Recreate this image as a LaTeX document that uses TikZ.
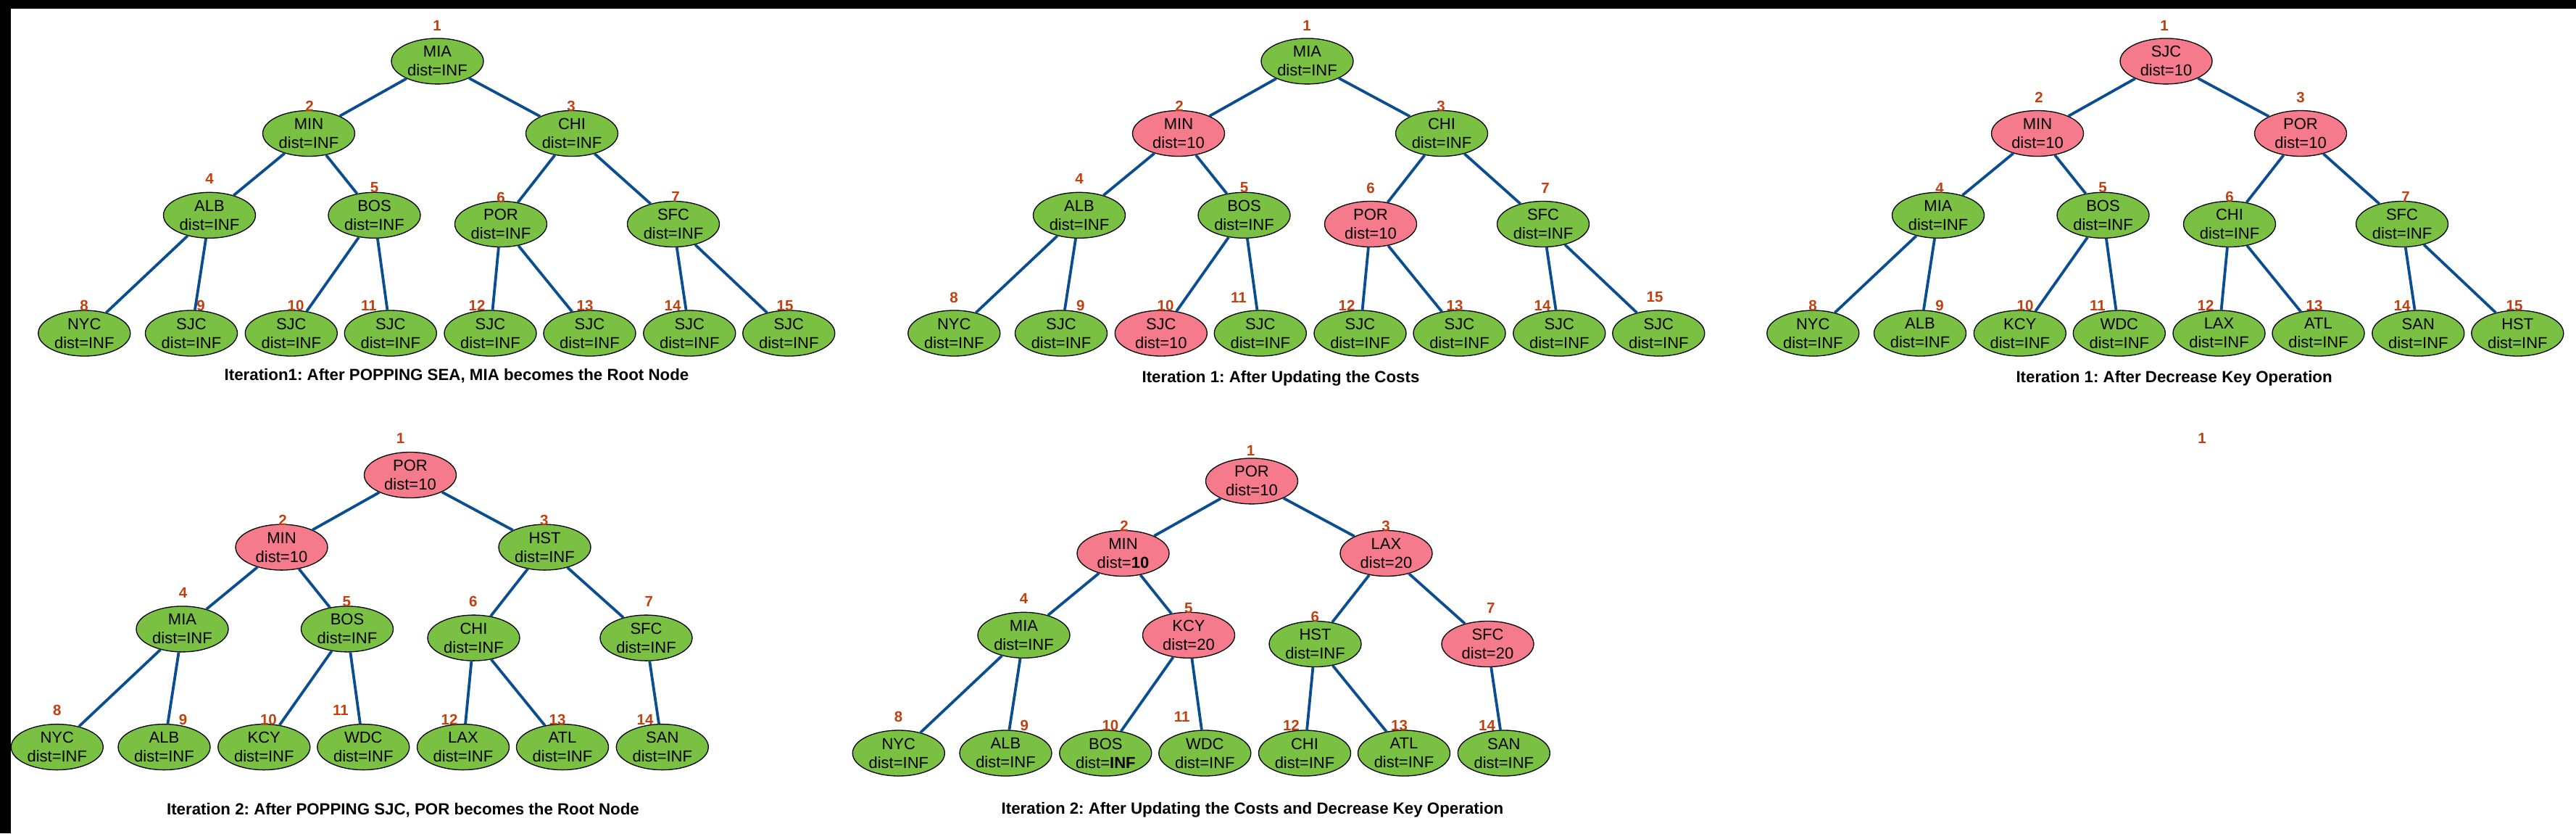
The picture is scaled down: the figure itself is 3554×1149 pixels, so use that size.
\documentclass[tikz,border=0pt]{standalone}
\usepackage{fontspec}
\setmainfont{Liberation Sans}
\frenchspacing
\usetikzlibrary{shapes.geometric}
\definecolor{nodegreen}{RGB}{122,193,67}
\definecolor{nodepink}{RGB}{245,122,140}
\definecolor{numred}{RGB}{192,64,16}
\definecolor{edgeblue}{RGB}{10,78,145}
\newcommand{\nt}[2]{\parbox[c][20pt][c]{20pt}{\centering\makebox[0pt]{#1}\\\makebox[0pt]{#2}}}
\newcommand{\cty}[5]{\node[#1] (#2) at (#3) {\nt{#4}{#5}};}
\newcommand{\nm}[3]{\node[num] (#1) at (#2) {#3};}
\newcommand{\treebase}[1]{%
  \draw[edge] (#1R) -- (#1A); \draw[edge] (#1R) -- (#1B);
  \draw[edge] (#1A) -- (#1C); \draw[edge] (#1A) -- (#1D);
  \draw[edge] (#1B) -- (#1E); \draw[edge] (#1B) -- (#1F);
  \draw[edge] (#1C) -- (#1l1); \draw[edge] (#1C) -- (#1l2);
  \draw[edge] (#1D) -- (#1l3); \draw[edge] (#1D) -- (#1l4);
  \draw[edge] (#1E) -- (#1l5); \draw[edge] (#1E) -- (#1l6);
  \draw[edge] (#1F) -- (#1l7);}
\tikzset{
  city/.style={ellipse, draw=black, line width=1.3pt, minimum width=127pt, minimum height=63pt, inner sep=0pt, font=\fontsize{22}{26}\selectfont},
  gnode/.style={city, fill=nodegreen},
  pnode/.style={city, fill=nodepink},
  num/.style={text=numred, font=\fontsize{20.5}{20.5}\bfseries\selectfont, inner sep=0pt},
  edge/.style={draw=edgeblue, line width=3.8pt},
  capt/.style={font=\fontsize{22.3}{26}\bfseries\selectfont, inner sep=0pt}
}
\begin{document}
\begin{tikzpicture}[x=1pt, y=-1pt]
\useasboundingbox (0,0) rectangle (3554,1149);
\fill[white] (0,0) rectangle (3554,1149);
\fill[black] (0,0) rectangle (3554,12);
\fill[black] (0,0) rectangle (15,1149);

% ---------- Tree 1 ----------
\begin{scope}[shift={(0,0)}]
\cty{gnode}{aR}{603.5,84.4}{MIA}{dist=INF}
\cty{gnode}{aA}{426,184}{MIN}{dist=INF}
\cty{gnode}{aB}{789,184}{CHI}{dist=INF}
\cty{gnode}{aC}{289,296.8}{ALB}{dist=INF}
\cty{gnode}{aD}{516.5,296.8}{BOS}{dist=INF}
\cty{gnode}{aE}{691,309}{POR}{dist=INF}
\cty{gnode}{aF}{929,309}{SFC}{dist=INF}
\cty{gnode}{al1}{116.3,459.5}{NYC}{dist=INF}
\cty{gnode}{al2}{264,459.5}{SJC}{dist=INF}
\cty{gnode}{al3}{401.8,459.5}{SJC}{dist=INF}
\cty{gnode}{al4}{538.8,459.5}{SJC}{dist=INF}
\cty{gnode}{al5}{676.5,459.5}{SJC}{dist=INF}
\cty{gnode}{al6}{813.5,459.5}{SJC}{dist=INF}
\cty{gnode}{al7}{951.3,459.5}{SJC}{dist=INF}
\cty{gnode}{al8}{1088.3,459.5}{SJC}{dist=INF}
\treebase{a}
\draw[edge] (aF) -- (al8);
\nm{an1}{603,35}{1}
\nm{an2}{427,146}{2}
\nm{an3}{788,146}{3}
\nm{an4}{289,246}{4}
\nm{an5}{516.6,259}{5}
\nm{an6}{691,272}{6}
\nm{an7}{932,271}{7}
\nm{an8}{116,421.7}{8}
\nm{an9}{277,421.7}{9}
\nm{an10}{408,421.7}{10}
\nm{an11}{509,421.7}{11}
\nm{an12}{658,421.7}{12}
\nm{an13}{807,421.7}{13}
\nm{an14}{928,421.7}{14}
\nm{an15}{1083,421.7}{15}
\end{scope}
\node[capt] (cap1) at (630,518) {Iteration1: After POPPING SEA, MIA becomes the Root Node};

% ---------- Tree 2 ----------
\begin{scope}[shift={(1200,0)}]
\cty{gnode}{bR}{603.5,84.4}{MIA}{dist=INF}
\cty{pnode}{bA}{426,184}{MIN}{dist=10}
\cty{gnode}{bB}{789,184}{CHI}{dist=INF}
\cty{gnode}{bC}{289,296.8}{ALB}{dist=INF}
\cty{gnode}{bD}{516.5,296.8}{BOS}{dist=INF}
\cty{pnode}{bE}{691,309}{POR}{dist=10}
\cty{gnode}{bF}{929,309}{SFC}{dist=INF}
\cty{gnode}{bl1}{116.3,459.5}{NYC}{dist=INF}
\cty{gnode}{bl2}{264,459.5}{SJC}{dist=INF}
\cty{pnode}{bl3}{401.8,459.5}{SJC}{dist=10}
\cty{gnode}{bl4}{538.8,459.5}{SJC}{dist=INF}
\cty{gnode}{bl5}{676.5,459.5}{SJC}{dist=INF}
\cty{gnode}{bl6}{813.5,459.5}{SJC}{dist=INF}
\cty{gnode}{bl7}{951.3,459.5}{SJC}{dist=INF}
\cty{gnode}{bl8}{1088.3,459.5}{SJC}{dist=INF}
\treebase{b}
\draw[edge] (bF) -- (bl8);
\nm{bn1}{603,35}{1}
\nm{bn2}{427,146}{2}
\nm{bn3}{788,146}{3}
\nm{bn4}{289,246}{4}
\nm{bn5}{516.6,259}{5}
\nm{bn6}{691,259}{6}
\nm{bn7}{932,259}{7}
\nm{bn8}{116,410}{8}
\nm{bn9}{290.8,421.7}{9}
\nm{bn10}{408,421.7}{10}
\nm{bn11}{509,410}{11}
\nm{bn12}{658,421.7}{12}
\nm{bn13}{807,421.7}{13}
\nm{bn14}{928,421.7}{14}
\nm{bn15}{1083,410}{15}
\end{scope}
\node[capt] (cap2) at (1767,521.6) {Iteration 1: After Updating the Costs};

% ---------- Tree 3 ----------
\begin{scope}[shift={(2385,0)}]
\cty{pnode}{cR}{603.5,84.4}{SJC}{dist=10}
\cty{pnode}{cA}{426,184}{MIN}{dist=10}
\cty{pnode}{cB}{789,184}{POR}{dist=10}
\cty{gnode}{cC}{289,296.8}{MIA}{dist=INF}
\cty{gnode}{cD}{516.5,296.8}{BOS}{dist=INF}
\cty{gnode}{cE}{691,309}{CHI}{dist=INF}
\cty{gnode}{cF}{929,309}{SFC}{dist=INF}
\cty{gnode}{cl1}{116.3,459.5}{NYC}{dist=INF}
\cty{gnode}{cl2}{264,459.5}{ALB}{dist=INF}
\cty{gnode}{cl3}{401.8,459.5}{KCY}{dist=INF}
\cty{gnode}{cl4}{538.8,459.5}{WDC}{dist=INF}
\cty{gnode}{cl5}{676.5,459.5}{LAX}{dist=INF}
\cty{gnode}{cl6}{813.5,459.5}{ATL}{dist=INF}
\cty{gnode}{cl7}{951.3,459.5}{SAN}{dist=INF}
\cty{gnode}{cl8}{1088.3,459.5}{HST}{dist=INF}
\treebase{c}
\draw[edge] (cF) -- (cl8);
\nm{cn1}{601,35}{1}
\nm{cn2}{428,134}{2}
\nm{cn3}{789,134}{3}
\nm{cn4}{291,259}{4}
\nm{cn5}{516,259}{5}
\nm{cn6}{691,271}{6}
\nm{cn7}{934,271}{7}
\nm{cn8}{116,421.7}{8}
\nm{cn9}{291,421.7}{9}
\nm{cn10}{409,421.7}{10}
\nm{cn11}{509,421.7}{11}
\nm{cn12}{658,421.7}{12}
\nm{cn13}{808,421.7}{13}
\nm{cn14}{929,421.7}{14}
\nm{cn15}{1084,421.7}{15}
\end{scope}
\node[capt] (cap3) at (2999.6,521.6) {Iteration 1: After Decrease Key Operation};

% ---------- Tree 4 ----------
\begin{scope}[shift={(-37.5,570.6)}]
\cty{pnode}{dR}{603.5,84.4}{POR}{dist=10}
\cty{pnode}{dA}{426,184}{MIN}{dist=10}
\cty{gnode}{dB}{789,184}{HST}{dist=INF}
\cty{gnode}{dC}{289,296.8}{MIA}{dist=INF}
\cty{gnode}{dD}{516.5,296.8}{BOS}{dist=INF}
\cty{gnode}{dE}{691,309}{CHI}{dist=INF}
\cty{gnode}{dF}{929,309}{SFC}{dist=INF}
\cty{gnode}{dl1}{116.3,459.5}{NYC}{dist=INF}
\cty{gnode}{dl2}{264,459.5}{ALB}{dist=INF}
\cty{gnode}{dl3}{401.8,459.5}{KCY}{dist=INF}
\cty{gnode}{dl4}{538.8,459.5}{WDC}{dist=INF}
\cty{gnode}{dl5}{676.5,459.5}{LAX}{dist=INF}
\cty{gnode}{dl6}{813.5,459.5}{ATL}{dist=INF}
\cty{gnode}{dl7}{951.3,459.5}{SAN}{dist=INF}
\treebase{d}
\nm{dn1}{590,34.1}{1}
\nm{dn2}{427.5,146.4}{2}
\nm{dn3}{788.3,146.4}{3}
\nm{dn4}{290,247}{4}
\nm{dn5}{515.8,258.7}{5}
\nm{dn6}{690.3,258.7}{6}
\nm{dn7}{932.9,258.7}{7}
\nm{dn8}{116.3,408.4}{8}
\nm{dn9}{290,421.4}{9}
\nm{dn10}{407.9,421.4}{10}
\nm{dn11}{507.5,408.4}{11}
\nm{dn12}{657.5,421.4}{12}
\nm{dn13}{806.5,421.4}{13}
\nm{dn14}{927.5,421.4}{14}
\end{scope}
\node[capt] (cap4) at (556,1117) {Iteration 2: After POPPING SJC, POR becomes the Root Node};

% ---------- Tree 5 ----------
\begin{scope}[shift={(1123.5,579)}]
\cty{pnode}{eR}{603.5,84.4}{POR}{dist=10}
\cty{pnode}{eA}{426,184}{MIN}{dist=\textbf{10}}
\cty{pnode}{eB}{789,184}{LAX}{dist=20}
\cty{gnode}{eC}{289,296.8}{MIA}{dist=INF}
\cty{pnode}{eD}{516.5,296.8}{KCY}{dist=20}
\cty{gnode}{eE}{691,309}{HST}{dist=INF}
\cty{pnode}{eF}{929,309}{SFC}{dist=20}
\cty{gnode}{el1}{116.3,459.5}{NYC}{dist=INF}
\cty{gnode}{el2}{264,459.5}{ALB}{dist=INF}
\cty{gnode}{el3}{401.8,459.5}{BOS}{dist=\textbf{INF}}
\cty{gnode}{el4}{538.8,459.5}{WDC}{dist=INF}
\cty{gnode}{el5}{676.5,459.5}{CHI}{dist=INF}
\cty{gnode}{el6}{813.5,459.5}{ATL}{dist=INF}
\cty{gnode}{el7}{951.3,459.5}{SAN}{dist=INF}
\treebase{e}
\nm{en1}{602,42.7}{1}
\nm{en2}{427.5,146}{2}
\nm{en3}{788.5,146}{3}
\nm{en4}{289,246.7}{4}
\nm{en5}{516.3,259.4}{5}
\nm{en6}{690.8,271.4}{6}
\nm{en7}{933.4,259.4}{7}
\nm{en8}{116,409}{8}
\nm{en9}{289.8,421}{9}
\nm{en10}{408.4,421}{10}
\nm{en11}{507.1,409}{11}
\nm{en12}{657.9,421}{12}
\nm{en13}{807.1,421}{13}
\nm{en14}{928,421}{14}
\end{scope}
\node[capt] (cap5) at (1728,1117) {Iteration 2: After Updating the Costs and Decrease Key Operation};

% ---------- Tree 6 (only index) ----------
\nm{fn1}{3038,604.7}{1}
\end{tikzpicture}
\end{document}
